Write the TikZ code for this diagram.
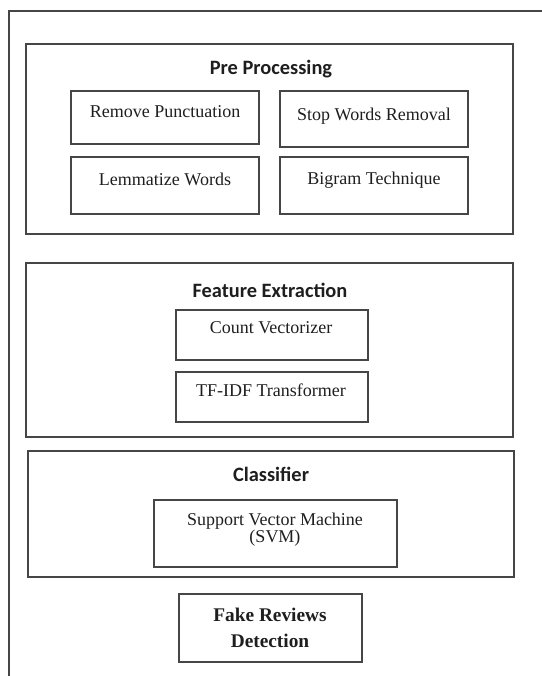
\documentclass[tikz,border=0pt]{standalone}
\usepackage{fontspec}
\setmainfont{Liberation Serif}
\newfontfamily\headfont{Carlito}

\definecolor{framegray}{RGB}{70,70,70}
\definecolor{inkgray}{RGB}{30,30,30}

\tikzset{every picture/.style={line width=1.1pt}}
\tikzset{
  boxline/.style={draw=framegray},
  headtxt/.style={anchor=base,inner sep=0.75pt,text=inkgray,font=\headfont\bfseries\fontsize{15.3}{18}\selectfont},
  bodytxt/.style={anchor=base,inner sep=0.75pt,text=inkgray,font=\fontsize{13.5}{16}\selectfont},
}

\begin{document}
\begin{tikzpicture}[x=0.75pt,y=0.75pt,yscale=-1,xscale=1]
    \useasboundingbox (0,0) rectangle (542,676);

    %Outer frame
    \draw [boxline,line width=1.5pt]  (8.5,676) -- (8.5,10.5) -- (542,10.5) ;

    %Shape: Rectangle [Pre Processing]
    \draw [boxline]  (26,44) rectangle (513,234) ;
    %Shape: Rectangle
    \draw [boxline]  (71,91) rectangle (259,144) ;
    %Shape: Rectangle
    \draw [boxline]  (280,91) rectangle (468,147) ;
    %Shape: Rectangle
    \draw [boxline]  (71,157) rectangle (259,214) ;
    %Shape: Rectangle
    \draw [boxline]  (280,157) rectangle (468,214) ;

    %Shape: Rectangle [Feature Extraction]
    \draw [boxline]  (26,263) rectangle (513,437) ;
    %Shape: Rectangle
    \draw [boxline]  (176,310) rectangle (368,360) ;
    %Shape: Rectangle
    \draw [boxline]  (176,372) rectangle (368,422) ;

    %Shape: Rectangle [Classifier]
    \draw [boxline]  (28,451) rectangle (514,577) ;
    %Shape: Rectangle
    \draw [boxline]  (154,500) rectangle (397,567) ;

    %Shape: Rectangle [Detection]
    \draw [boxline]  (179,594) rectangle (362,662) ;

    % Text Node
    \node [headtxt] (preproc) at (271,74) {Pre Processing};
    % Text Node
    \node [bodytxt] (punct) at (165,117) {Remove Punctuation};
    % Text Node
    \node [bodytxt] (stopw) at (374,120) {Stop Words Removal};
    % Text Node
    \node [bodytxt] (lemma) at (165,185) {Lemmatize Words};
    % Text Node
    \node [bodytxt] (bigram) at (374,184) {Bigram Technique};

    % Text Node
    \node [headtxt] (featext) at (270,297) {Feature Extraction};
    % Text Node
    \node [bodytxt] (countvec) at (271,333) {Count Vectorizer};
    % Text Node
    \node [bodytxt] (tfidf) at (271,396) {TF-IDF Transformer};

    % Text Node
    \node [headtxt] (classif) at (271,481) {Classifier};
    % Text Node
    \node [bodytxt,anchor=center,align=center,font=\fontsize{13.5}{12.75}\selectfont] (svm) at (275,530) {Support Vector Machine\\(SVM)};

    % Text Node
    \node [bodytxt,anchor=center,align=center,font=\bfseries\fontsize{14.5}{19.5}\selectfont] (fakedet) at (270,628) {Fake Reviews\\Detection};

\end{tikzpicture}
\end{document}
